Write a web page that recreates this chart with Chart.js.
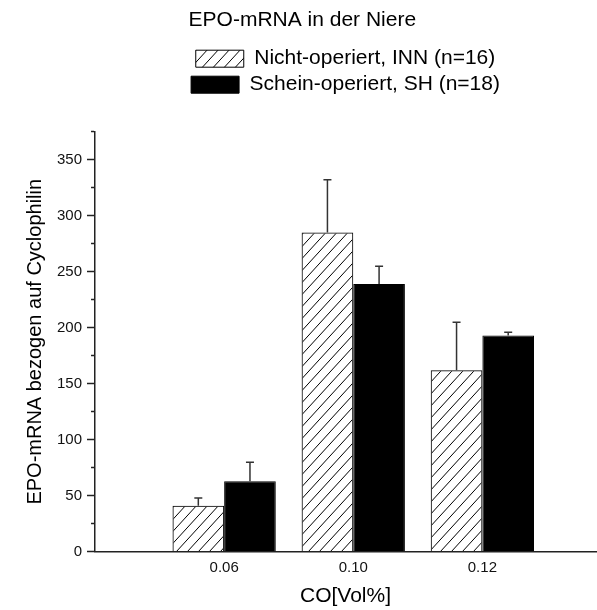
<!DOCTYPE html>
<html>
<head>
<meta charset="utf-8">
<title>EPO-mRNA in der Niere</title>
<script src="https://cdn.jsdelivr.net/npm/chart.js@4.4.0/dist/chart.umd.min.js"></script>
<style>
  html, body { margin: 0; padding: 0; background: #fff; }
</style>
</head>
<body>
<canvas id="chart" width="597" height="610"></canvas>
<script>
const categories = ["0.06", "0.10", "0.12"];
const innValues = [41, 285, 162];
const innErrors = [7, 47, 43];
const shValues = [63, 239, 193];
const shErrors = [17, 16, 3];
const yTickLabels = [0, 50, 100, 150, 200, 250, 300, 350];

Chart.defaults.font.family = "'Liberation Sans', Arial, sans-serif";

const canvas = document.getElementById("chart");
const ctx = canvas.getContext("2d");

// diagonal "/" hatch for the INN bars
function makeHatch() {
  const tile = document.createElement("canvas");
  tile.width = 11;
  tile.height = 12;
  const g = tile.getContext("2d");
  g.strokeStyle = "#000";
  g.lineWidth = 1;
  g.beginPath();
  for (const dx of [-11, 0, 11]) {
    g.moveTo(dx, 12);
    g.lineTo(dx + 11, 0);
  }
  g.stroke();
  return ctx.createPattern(tile, "repeat");
}

// extra room between legend and plot
const legendGap = {
  id: "legendGap",
  afterInit(chart) {
    const fit = chart.legend.fit;
    chart.legend.fit = function () {
      fit.call(this);
      this.height += 26.5;
    };
  }
};

// upper error bars with a small cap
const errorBars = {
  id: "errorBars",
  afterDatasetsDraw(chart) {
    const c = chart.ctx;
    const y = chart.scales.y;
    c.save();
    c.strokeStyle = "#333";
    c.lineWidth = 1.5;
    chart.data.datasets.forEach((ds, d) => {
      chart.getDatasetMeta(d).data.forEach((bar, i) => {
        const top = y.getPixelForValue(ds.data[i].y + ds.errors[i]);
        c.beginPath();
        c.moveTo(bar.x, bar.y);
        c.lineTo(bar.x, top);
        c.moveTo(bar.x - 4, top);
        c.lineTo(bar.x + 4, top);
        c.stroke();
      });
    });
    c.restore();
  }
};

const toPoints = (vals) => vals.map((v, i) => ({ x: i + 1, y: v }));

new Chart(canvas, {
  type: "bar",
  plugins: [legendGap, errorBars],
  data: {
    datasets: [
      {
        label: "Nicht-operiert, INN (n=16)",
        data: toPoints(innValues),
        errors: innErrors,
        backgroundColor: makeHatch(),
        borderColor: "#000",
        borderWidth: 1,
      },
      {
        label: "Schein-operiert, SH (n=18)",
        data: toPoints(shValues),
        errors: shErrors,
        backgroundColor: "#000",
        borderColor: "#000",
        borderWidth: 1,
      },
    ],
  },
  options: {
    responsive: false,
    animation: false,
    layout: { padding: { left: 18, right: 1, top: 0, bottom: 1 } },
    datasets: { bar: { categoryPercentage: 0.8, barPercentage: 1 } },
    plugins: {
      tooltip: { enabled: false },
      title: { display: false },
      legend: {
        position: "top",
        fullSize: false,
        align: "center",
        title: {
          display: true,
          text: "EPO-mRNA in der Niere",
          position: "start",
          color: "#000",
          font: { size: 21 },
          padding: { top: 10, bottom: 8 },
        },
        labels: {
          boxWidth: 48,
          boxHeight: 17,
          padding: 5,
          color: "#000",
          font: { size: 21 },
        },
      },
    },
    scales: {
      x: {
        type: "linear",
        min: 0,
        max: 3.88,
        offset: false,
        z: 1,
        afterBuildTicks: (scale) => {
          scale.ticks = categories.map((_, i) => ({ value: i + 1 }));
        },
        grid: { display: false, offset: false, drawOnChartArea: false, drawTicks: false },
        border: { color: "#222", width: 1.5 },
        ticks: {
          callback: (v) => categories[v - 1],
          autoSkip: false,
          maxRotation: 0,
          padding: 7,
          color: "#111",
          font: { size: 15 },
        },
        title: {
          display: true,
          text: "CO[Vol%]",
          color: "#000",
          font: { size: 21 },
          padding: 0,
        },
      },
      y: {
        min: 0,
        max: 375,
        ticks: {
          stepSize: 25,
          autoSkip: false,
          padding: 5,
          color: "#111",
          font: { size: 15 },
          callback: (v) => (yTickLabels.includes(v) ? v : ""),
        },
        grid: {
          drawOnChartArea: false,
          tickLength: 8,
          tickWidth: 1.5,
          tickColor: "#222",
          tickBorderDash: (c) => (c.tick && c.tick.value % 50 ? [0, 4, 4, 20] : []),
        },
        border: { color: "#222", width: 1.5 },
        title: {
          display: true,
          text: "EPO-mRNA bezogen auf Cyclophilin",
          color: "#000",
          font: { size: 20 },
          padding: { top: 5, bottom: 5 },
        },
      },
    },
  },
});
</script>
</body>
</html>
